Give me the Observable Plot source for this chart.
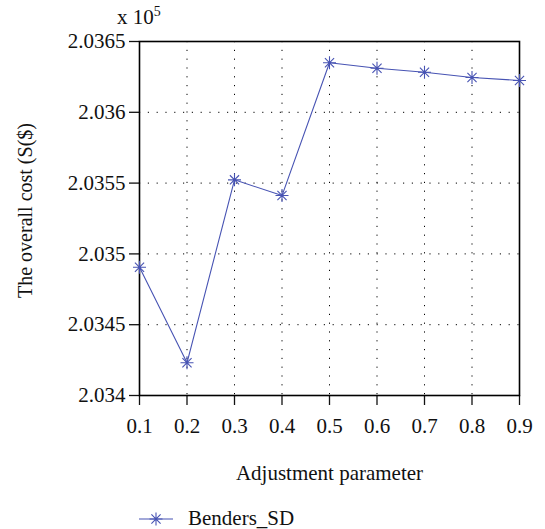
<!DOCTYPE html>
<html>
<head>
<meta charset="utf-8">
<script src="https://cdn.jsdelivr.net/npm/d3@7"></script>
<script src="https://cdn.jsdelivr.net/npm/@observablehq/plot@0.6"></script>
<style>
  html, body { margin: 0; padding: 0; background: #fff; }
  #wrap { position: relative; width: 545px; height: 529px; font-family: "Liberation Serif", "DejaVu Serif", serif; color: #111; }
  #exp { position: absolute; left: 117px; top: 4px; font-size: 21px; }
  #exp sup { font-size: 14px; vertical-align: 8px; }
  #legend { position: absolute; left: 139px; top: 506px; display: flex; align-items: center; font-size: 21px; }
  #legend svg { margin-right: 15px; }
</style>
</head>
<body>
<div id="wrap">
  <div id="chart"></div>
  <div id="exp">x 10<sup>5</sup></div>
  <div id="legend"></div>
</div>
<script>
const xValues = [0.1, 0.2, 0.3, 0.4, 0.5, 0.6, 0.7, 0.8, 0.9];
const costValues = [2.034906, 2.034231, 2.035523, 2.035412, 2.03635, 2.036311, 2.036283, 2.036246, 2.036225];
const xTicks = [0.1, 0.2, 0.3, 0.4, 0.5, 0.6, 0.7, 0.8, 0.9];
const xTickLabels = ["0.1", "0.2", "0.3", "0.4", "0.5", "0.6", "0.7", "0.8", "0.9"];
const yTicks = [2.034, 2.0345, 2.035, 2.0355, 2.036, 2.0365];
const yTickLabels = ["2.034", "2.0345", "2.035", "2.0355", "2.036", "2.0365"];
const xTitle = "Adjustment parameter";
const yTitle = "The overall cost (S($)";
const seriesName = "Benders_SD";

const blue = "#4753b3";
const data = xValues.map((x, i) => ({x, y: costValues[i]}));

const star8 = {
  draw(ctx, size) {
    const r = Math.sqrt(size / Math.PI);
    const d = r * 0.7071;
    ctx.moveTo(-r, 0); ctx.lineTo(r, 0);
    ctx.moveTo(0, -r); ctx.lineTo(0, r);
    ctx.moveTo(-d, -d); ctx.lineTo(d, d);
    ctx.moveTo(-d, d); ctx.lineTo(d, -d);
  }
};

const chart = Plot.plot({
  width: 545,
  height: 495,
  marginLeft: 139,
  marginRight: 26,
  marginTop: 41,
  marginBottom: 100,
  style: {fontFamily: "'Liberation Serif', 'DejaVu Serif', serif", fontSize: "21px", color: "#111", background: "#fff", overflow: "visible"},
  x: {domain: [0.1, 0.9]},
  y: {domain: [2.034, 2.0365]},
  marks: [
    Plot.gridX(xTicks.slice(1, -1), {stroke: "#000", strokeOpacity: 1, strokeWidth: 1, strokeDasharray: "1.2,7.6"}),
    Plot.gridY(yTicks.slice(1, -1), {stroke: "#000", strokeOpacity: 1, strokeWidth: 1, strokeDasharray: "1.2,7.6"}),
    Plot.axisX(xTicks, {tickSize: 10, tickPadding: 13, strokeWidth: 1.3, fontSize: 21, tickFormat: d => xTickLabels[xTicks.indexOf(d)], label: null}),
    Plot.axisY(yTicks, {tickSize: 10, tickPadding: 4, strokeWidth: 1.3, fontSize: 21, tickFormat: d => yTickLabels[yTicks.indexOf(d)], label: null}),
    Plot.text([xTitle], {frameAnchor: "bottom", text: d => d, dy: 78, lineAnchor: "middle", fontSize: 21, fill: "#111"}),
    Plot.text([yTitle], {frameAnchor: "left", text: d => d, dx: -114, dy: -8, rotate: -90, lineAnchor: "middle", textAnchor: "middle", fontSize: 20, fill: "#111"}),
    Plot.frame({stroke: "#000", strokeWidth: 1.6}),
    Plot.line(data, {x: "x", y: "y", stroke: blue, strokeWidth: 1.1}),
    Plot.dot(data, {x: "x", y: "y", symbol: star8, r: 6.5, stroke: blue, strokeWidth: 1.1})
  ]
});
document.getElementById("chart").appendChild(chart);

// legend
const leg = document.getElementById("legend");
const ns = "http://www.w3.org/2000/svg";
const ls = document.createElementNS(ns, "svg");
ls.setAttribute("width", "34"); ls.setAttribute("height", "16");
const ln = document.createElementNS(ns, "line");
ln.setAttribute("x1", "0"); ln.setAttribute("x2", "34"); ln.setAttribute("y1", "8"); ln.setAttribute("y2", "8");
ln.setAttribute("stroke", blue); ln.setAttribute("stroke-width", "1.1");
ls.appendChild(ln);
const p = d3.path();
star8.draw(p, Math.PI * 6.5 * 6.5);
const st = document.createElementNS(ns, "path");
st.setAttribute("d", p.toString()); st.setAttribute("transform", "translate(17,8)");
st.setAttribute("stroke", blue); st.setAttribute("stroke-width", "1.1"); st.setAttribute("fill", "none");
ls.appendChild(st);
leg.appendChild(ls);
const lt = document.createElement("span");
lt.textContent = seriesName;
leg.appendChild(lt);
</script>
</body>
</html>
